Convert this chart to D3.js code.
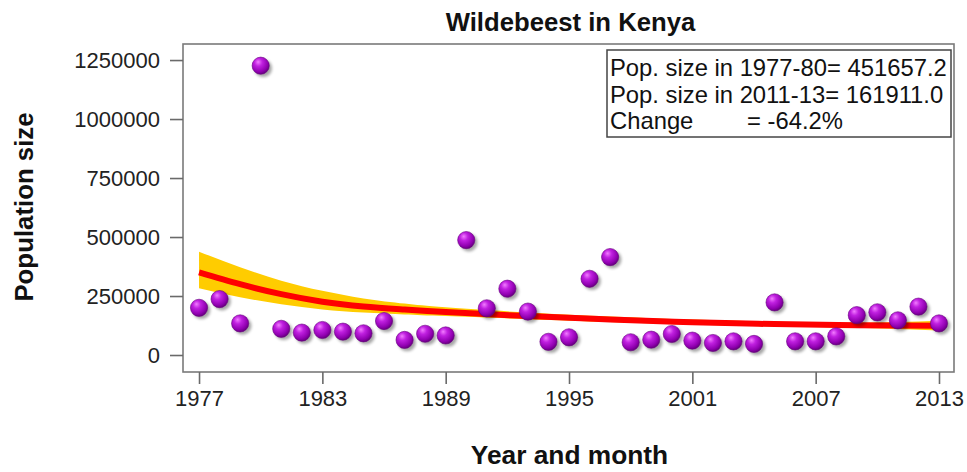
<!DOCTYPE html>
<html><head><meta charset="utf-8">
<script src="https://cdn.jsdelivr.net/npm/d3@7/dist/d3.min.js"></script>
<style>
html,body{margin:0;padding:0;background:#fff;}
svg{display:block;font-family:"Liberation Sans",Arial,sans-serif;}
</style></head>
<body>
<svg id="chart" width="967" height="472"></svg>
<script>
// ---- data ----
const years = [1977,1978,1979,1980,1981,1982,1983,1984,1985,1986,1987,1988,1989,1990,1991,1992,1993,1994,1995,1996,1997,1998,1999,2000,2001,2002,2003,2004,2005,2006,2007,2008,2009,2010,2011,2012,2013];
const population = [200000,237000,134000,1226000,111000,95000,106000,99000,92000,144000,64000,90000,83000,487000,198000,281000,184000,56000,75000,323000,415000,54000,65000,89000,61000,51000,58000,47000,223000,58000,58000,79000,169000,181000,147000,205000,134000];
const trendYears = [1977,1979,1981,1983,1985,1987,1989,1993,1997,2001,2005,2009,2013];
const trendFit   = [350000,300000,258000,226000,206000,193000,182000,165000,151000,139000,131000,126000,124000];
const trendUpper = [438000,372000,315000,272000,240000,218000,202000,180000,163000,150000,141000,137000,145000];
const trendLower = [283000,245000,215000,193000,180000,172000,165000,152000,140000,129000,121000,116000,104000];
const xTicks = [1977,1983,1989,1995,2001,2007,2013];
const yTicks = [0,250000,500000,750000,1000000,1250000];
const titleText = "Wildebeest in Kenya";
const xLabel = "Year and month";
const yLabel = "Population size";
const legendLines = ["Pop. size in 1977-80= 451657.2","Pop. size in 2011-13= 161911.0","Change"];
const legendChange = "= -64.2%";

// ---- layout ----
const svg = d3.select("#chart");
const m = {left:183, top:44, right:954, bottom:372};
const x = d3.scaleLinear().domain([1976.22, 2013.73]).range([m.left, m.right]);
const y = d3.scaleLinear().domain([-72000, 1318000]).range([m.bottom, m.top]);

const defs = svg.append("defs");
const grad = defs.append("radialGradient").attr("id","ball")
  .attr("cx","40%").attr("cy","35%").attr("r","65%").attr("fx","35%").attr("fy","28%");
grad.append("stop").attr("offset","0%").attr("stop-color","#f27cff");
grad.append("stop").attr("offset","35%").attr("stop-color","#c020e0");
grad.append("stop").attr("offset","80%").attr("stop-color","#9000b0");
grad.append("stop").attr("offset","100%").attr("stop-color","#680080");
const f = defs.append("filter").attr("id","shadow").attr("x","-50%").attr("y","-50%").attr("width","200%").attr("height","200%");
f.append("feGaussianBlur").attr("stdDeviation",1.8);

// band
const area = d3.area().curve(d3.curveNatural)
  .x((d,i)=>x(trendYears[i])).y0((d,i)=>y(trendLower[i])).y1((d,i)=>y(trendUpper[i]));
svg.append("path").datum(trendYears).attr("d",area).attr("fill","#ffcc00");
const line = d3.line().curve(d3.curveNatural).x((d,i)=>x(trendYears[i])).y((d,i)=>y(trendFit[i]));
svg.append("path").datum(trendYears).attr("d",line).attr("fill","none").attr("stroke","#ff0000").attr("stroke-width",6);

// points
const pts = years.map((yr,i)=>({yr, v:population[i]}));
svg.append("g").selectAll("circle").data(pts).join("circle")
  .attr("cx",d=>x(d.yr)+2.5).attr("cy",d=>y(d.v)+2.5).attr("r",8.8)
  .attr("fill","#000").attr("opacity",0.35).attr("filter","url(#shadow)");
svg.append("g").selectAll("circle").data(pts).join("circle")
  .attr("cx",d=>x(d.yr)).attr("cy",d=>y(d.v)).attr("r",8.6)
  .attr("fill","url(#ball)").attr("stroke","#6a0082").attr("stroke-width",0.6);

// frame
svg.append("rect").attr("x",m.left).attr("y",m.top).attr("width",m.right-m.left).attr("height",m.bottom-m.top)
  .attr("fill","none").attr("stroke","#7a7a7a").attr("stroke-width",1.6);

// axes
const xAxis = d3.axisBottom(x).tickValues(xTicks).tickFormat(d3.format("d")).tickSize(12).tickPadding(6);
const gx = svg.append("g").attr("transform",`translate(0,${m.bottom})`).call(xAxis);
gx.select(".domain").remove();
gx.selectAll("line").attr("stroke","#6a6a6a").attr("stroke-width",1.6);
gx.selectAll("text").attr("font-size",22).attr("fill","#222").attr("font-family","Liberation Sans, Arial, sans-serif");

const yAxis = d3.axisLeft(y).tickValues(yTicks).tickFormat(d3.format("d")).tickSize(13).tickPadding(10);
const gy = svg.append("g").attr("transform",`translate(${m.left},0)`).call(yAxis);
gy.select(".domain").remove();
gy.selectAll("line").attr("stroke","#6a6a6a").attr("stroke-width",1.6);
gy.selectAll("text").attr("font-size",22).attr("fill","#222").attr("font-family","Liberation Sans, Arial, sans-serif");

// titles
svg.append("text").attr("x",(m.left+m.right)/2+2).attr("y",31).attr("text-anchor","middle")
  .attr("font-size",25.7).attr("font-weight","bold").attr("fill","#111").text(titleText);
svg.append("text").attr("x",(m.left+m.right)/2+1).attr("y",464).attr("text-anchor","middle")
  .attr("font-size",26.3).attr("font-weight","bold").attr("fill","#111").text(xLabel);
svg.append("text").attr("transform",`translate(33,207) rotate(-90)`).attr("text-anchor","middle")
  .attr("font-size",25.8).attr("font-weight","bold").attr("fill","#111").text(yLabel);

// legend box
const lg = svg.append("g");
lg.append("rect").attr("x",607).attr("y",50).attr("width",344).attr("height",87)
  .attr("fill","#fff").attr("stroke","#444").attr("stroke-width",1.5);
lg.selectAll("text.l").data(legendLines).join("text").attr("class","l")
  .attr("x",610).attr("y",(d,i)=>76+i*26.7).attr("font-size",23.8).attr("fill","#111").text(d=>d);
lg.append("text").attr("x",747).attr("y",76+2*26.7).attr("font-size",23.8).attr("fill","#111").text(legendChange);
</script>
</body></html>
